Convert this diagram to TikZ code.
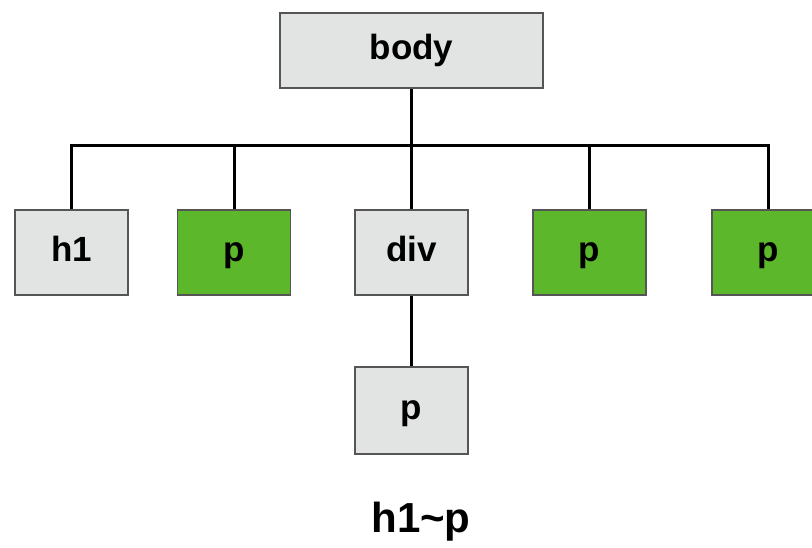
\documentclass[tikz,border=0pt]{standalone}
\usepackage{fontspec}
\setmainfont{Liberation Sans}

\definecolor{boxgray}{HTML}{E2E3E3}
\definecolor{boxgreen}{HTML}{5CB82A}
\definecolor{boxline}{HTML}{555555}

\tikzset{
  tag/.style={draw=boxline, line width=1.5pt, inner sep=0pt,
    minimum width=113pt, minimum height=85pt,
    text height=25pt, text depth=8pt,
    font=\fontsize{35}{42}\selectfont\bfseries},
  graytag/.style={tag, fill=boxgray},
  greentag/.style={tag, fill=boxgreen},
  wire/.style={line width=3pt, black}
}

\begin{document}
\begin{tikzpicture}[x=1pt,y=1pt,yscale=-1,xscale=1]
\useasboundingbox (0,0) rectangle (812,547);

% root
\node [graytag, minimum width=263pt, minimum height=75pt] (body) at (411.5,50.5) {body};

% children of body
\node [graytag]  (h1)  at (71.5,252.5)  {h1};
\node [greentag] (p1)  at (234,252.5)   {p};
\node [graytag]  (div) at (411.5,252.5) {div};
\node [greentag] (p3)  at (589.5,252.5) {p};
\node [greentag] (p4)  at (768.5,252.5) {p};

% child of div
\node [graytag, minimum height=87pt] (divp) at (411.5,410.5) {p};

% selector
\node [font=\fontsize{42}{50}\selectfont\bfseries] (sel) at (421,522) {h1\textasciitilde p};

% bus
\coordinate (bus) at (413,145);
\draw [wire] (body.south) -- (body.south |- bus);
\draw [wire] (h1.north) |- (bus) -| (p4.north);
\draw [wire] (p1.north) -- (p1.north |- bus);
\draw [wire] (div.north) -- (div.north |- bus);
\draw [wire] (p3.north) -- (p3.north |- bus);
\draw [wire] (div.south) -- (divp.north);

\end{tikzpicture}
\end{document}
